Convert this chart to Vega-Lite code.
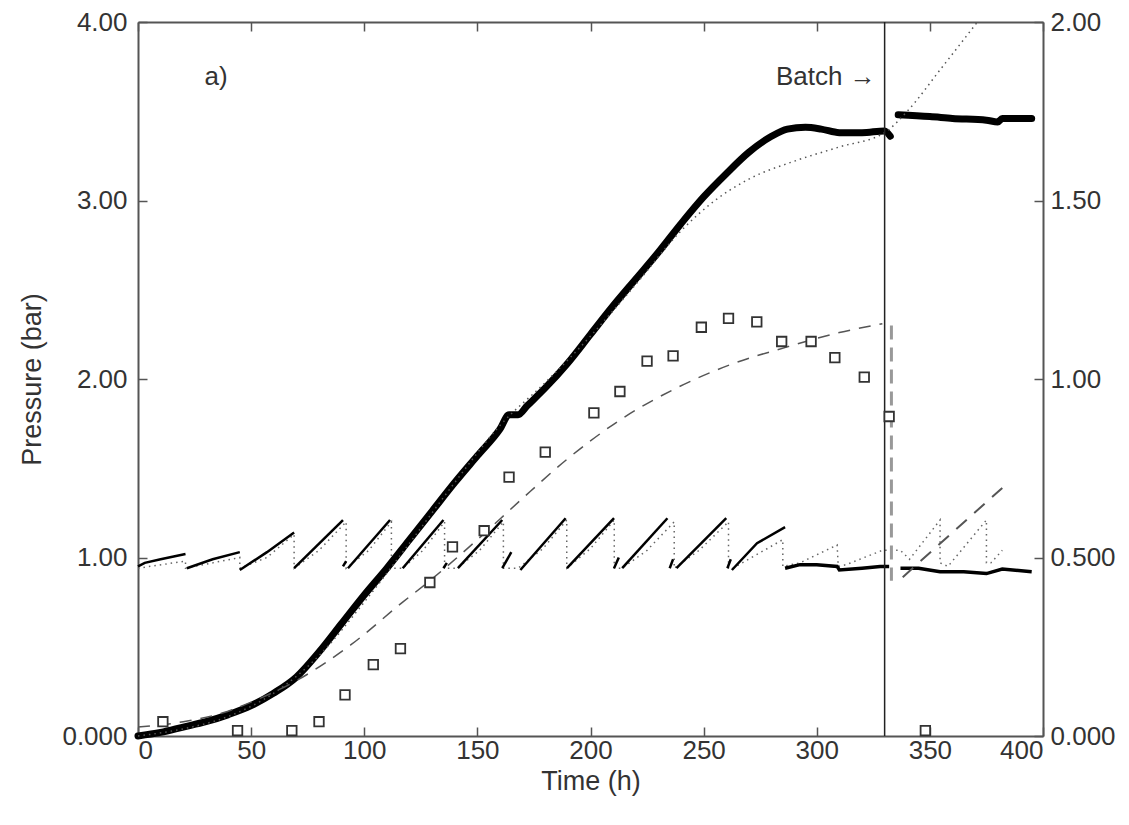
{
  "$schema": "https://vega.github.io/schema/vega-lite/v6.json",
  "width": 905,
  "height": 714,
  "autosize": {"type": "none"},
  "padding": {"left": 138, "top": 22, "right": 86, "bottom": 89},
  "background": "white",
  "config": {
    "view": {"stroke": null},
    "font": "Liberation Sans",
    "axis": {
      "grid": false,
      "domainColor": "#555",
      "domainWidth": 2,
      "tickColor": "#555",
      "tickWidth": 1.5,
      "tickSize": -9,
      "labelFont": "Liberation Sans",
      "labelFontSize": 26,
      "labelColor": "#333",
      "titleFont": "Liberation Sans",
      "titleFontSize": 27,
      "titleFontWeight": "normal",
      "titleColor": "#333"
    }
  },
  "datasets": {
    "thick": [
      {"t": 0, "p": 0, "s": 1}, {"t": 10, "p": 0.02, "s": 1}, {"t": 20, "p": 0.05, "s": 1}, {"t": 30, "p": 0.08, "s": 1},
      {"t": 40, "p": 0.12, "s": 1}, {"t": 50, "p": 0.17, "s": 1}, {"t": 60, "p": 0.24, "s": 1}, {"t": 70, "p": 0.33, "s": 1},
      {"t": 80, "p": 0.47, "s": 1}, {"t": 90, "p": 0.63, "s": 1}, {"t": 100, "p": 0.79, "s": 1}, {"t": 110, "p": 0.94, "s": 1},
      {"t": 120, "p": 1.10, "s": 1}, {"t": 130, "p": 1.26, "s": 1}, {"t": 140, "p": 1.42, "s": 1}, {"t": 150, "p": 1.57, "s": 1},
      {"t": 160, "p": 1.72, "s": 1}, {"t": 164, "p": 1.80, "s": 1}, {"t": 168, "p": 1.80, "s": 1}, {"t": 172, "p": 1.85, "s": 1},
      {"t": 180, "p": 1.95, "s": 1}, {"t": 190, "p": 2.09, "s": 1}, {"t": 200, "p": 2.25, "s": 1}, {"t": 210, "p": 2.41, "s": 1},
      {"t": 220, "p": 2.56, "s": 1}, {"t": 230, "p": 2.71, "s": 1}, {"t": 240, "p": 2.87, "s": 1}, {"t": 250, "p": 3.02, "s": 1},
      {"t": 260, "p": 3.15, "s": 1}, {"t": 270, "p": 3.27, "s": 1}, {"t": 280, "p": 3.36, "s": 1}, {"t": 287, "p": 3.40, "s": 1},
      {"t": 295, "p": 3.41, "s": 1}, {"t": 302, "p": 3.40, "s": 1}, {"t": 310, "p": 3.38, "s": 1}, {"t": 320, "p": 3.38, "s": 1}, {"t": 330, "p": 3.39, "s": 1},
      {"t": 332.5, "p": 3.36, "s": 1},
      {"t": 336, "p": 3.48, "s": 2}, {"t": 350, "p": 3.47, "s": 2}, {"t": 360, "p": 3.46, "s": 2}, {"t": 375, "p": 3.45, "s": 2},
      {"t": 380, "p": 3.44, "s": 2}, {"t": 382, "p": 3.46, "s": 2}, {"t": 395, "p": 3.46, "s": 2}
    ],
    "dotmodel": [
      {"t": 0, "p": 0}, {"t": 20, "p": 0.04}, {"t": 40, "p": 0.11}, {"t": 60, "p": 0.24}, {"t": 80, "p": 0.45},
      {"t": 100, "p": 0.75}, {"t": 120, "p": 1.08}, {"t": 140, "p": 1.42}, {"t": 160, "p": 1.74}, {"t": 180, "p": 1.98},
      {"t": 200, "p": 2.24}, {"t": 220, "p": 2.53}, {"t": 240, "p": 2.83}, {"t": 255, "p": 3.0}, {"t": 270, "p": 3.12},
      {"t": 290, "p": 3.22}, {"t": 310, "p": 3.30}, {"t": 330, "p": 3.38}, {"t": 340, "p": 3.50}, {"t": 355, "p": 3.74},
      {"t": 371, "p": 4.0}
    ],
    "saw": [
      {"t": 0, "p": 0.95, "s": 1}, {"t": 3, "p": 0.97, "s": 1}, {"t": 10, "p": 0.99, "s": 1}, {"t": 21, "p": 1.02, "s": 1},
      {"t": 21.6, "p": 0.94, "s": 2}, {"t": 33, "p": 0.99, "s": 2}, {"t": 45, "p": 1.03, "s": 2},
      {"t": 45, "p": 0.93, "s": 3}, {"t": 57, "p": 1.03, "s": 3}, {"t": 69, "p": 1.14, "s": 3},
      {"t": 69, "p": 0.94, "s": 4}, {"t": 90.6, "p": 1.21, "s": 4},
      {"t": 90.6, "p": 0.95, "s": 5}, {"t": 92, "p": 0.98, "s": 5},
      {"t": 92.8, "p": 0.94, "s": 6}, {"t": 111.4, "p": 1.21, "s": 6},
      {"t": 117, "p": 0.94, "s": 7}, {"t": 135, "p": 1.21, "s": 7},
      {"t": 135, "p": 0.94, "s": 8}, {"t": 136.5, "p": 0.97, "s": 8},
      {"t": 141.4, "p": 0.94, "s": 9}, {"t": 161, "p": 1.21, "s": 9},
      {"t": 161, "p": 0.94, "s": 10}, {"t": 165, "p": 1.03, "s": 10},
      {"t": 169, "p": 0.93, "s": 11}, {"t": 189, "p": 1.22, "s": 11},
      {"t": 189.6, "p": 0.94, "s": 12}, {"t": 210.4, "p": 1.22, "s": 12},
      {"t": 210.4, "p": 0.94, "s": 13}, {"t": 212.5, "p": 1.0, "s": 13},
      {"t": 214, "p": 0.94, "s": 14}, {"t": 234, "p": 1.22, "s": 14},
      {"t": 235, "p": 0.94, "s": 15}, {"t": 236.5, "p": 0.99, "s": 15},
      {"t": 238, "p": 0.94, "s": 16}, {"t": 260, "p": 1.22, "s": 16},
      {"t": 260.5, "p": 0.94, "s": 17}, {"t": 262, "p": 0.99, "s": 17},
      {"t": 262.5, "p": 0.93, "s": 18}, {"t": 273.6, "p": 1.08, "s": 18}, {"t": 286, "p": 1.17, "s": 18}
    ],
    "flat": [
      {"t": 286, "p": 0.94, "s": 1}, {"t": 292.6, "p": 0.96, "s": 1}, {"t": 300, "p": 0.96, "s": 1}, {"t": 309, "p": 0.95, "s": 1},
      {"t": 310, "p": 0.93, "s": 1}, {"t": 320, "p": 0.94, "s": 1}, {"t": 328, "p": 0.95, "s": 1}, {"t": 332, "p": 0.95, "s": 1},
      {"t": 337, "p": 0.94, "s": 2}, {"t": 345, "p": 0.94, "s": 2}, {"t": 354.5, "p": 0.92, "s": 2}, {"t": 365, "p": 0.92, "s": 2},
      {"t": 375, "p": 0.91, "s": 2}, {"t": 382, "p": 0.935, "s": 2}, {"t": 395, "p": 0.92, "s": 2}
    ],
    "sawdot": [
      {"i": 1, "t": 0, "p": 0.94}, {"i": 2, "t": 21, "p": 0.98}, {"i": 3, "t": 21, "p": 0.94}, {"i": 4, "t": 45, "p": 1.0},
      {"i": 5, "t": 45, "p": 0.94}, {"i": 6, "t": 57, "p": 1.0}, {"i": 7, "t": 69, "p": 1.13}, {"i": 8, "t": 69, "p": 0.94},
      {"i": 9, "t": 80, "p": 1.04}, {"i": 10, "t": 92, "p": 1.2}, {"i": 11, "t": 92, "p": 0.94}, {"i": 12, "t": 102, "p": 1.04},
      {"i": 13, "t": 112, "p": 1.2}, {"i": 14, "t": 112, "p": 0.94}, {"i": 15, "t": 117, "p": 0.94}, {"i": 16, "t": 126, "p": 1.04},
      {"i": 17, "t": 135.5, "p": 1.2}, {"i": 18, "t": 135.5, "p": 0.94}, {"i": 19, "t": 141, "p": 0.94}, {"i": 20, "t": 151, "p": 1.04},
      {"i": 21, "t": 161.5, "p": 1.2}, {"i": 22, "t": 161.5, "p": 0.94}, {"i": 23, "t": 168, "p": 0.94}, {"i": 24, "t": 179, "p": 1.05},
      {"i": 25, "t": 189.5, "p": 1.21}, {"i": 26, "t": 189.5, "p": 0.94}, {"i": 27, "t": 200, "p": 1.05}, {"i": 28, "t": 210.5, "p": 1.21},
      {"i": 29, "t": 210.5, "p": 0.94}, {"i": 30, "t": 214, "p": 0.94}, {"i": 31, "t": 225, "p": 1.04}, {"i": 32, "t": 237, "p": 1.2},
      {"i": 33, "t": 237, "p": 0.94}, {"i": 34, "t": 248, "p": 1.04}, {"i": 35, "t": 261, "p": 1.2}, {"i": 36, "t": 261, "p": 0.94},
      {"i": 37, "t": 263, "p": 0.94}, {"i": 38, "t": 274, "p": 1.02}, {"i": 39, "t": 285, "p": 1.10}, {"i": 40, "t": 285, "p": 0.95},
      {"i": 41, "t": 292.6, "p": 0.97}, {"i": 42, "t": 309, "p": 1.07}, {"i": 43, "t": 309.5, "p": 0.95}, {"i": 44, "t": 313, "p": 0.96},
      {"i": 45, "t": 329, "p": 1.04}, {"i": 46, "t": 337, "p": 1.04}, {"i": 47, "t": 341, "p": 0.99}, {"i": 48, "t": 354.5, "p": 1.21},
      {"i": 49, "t": 354.5, "p": 0.97}, {"i": 50, "t": 358, "p": 0.95}, {"i": 51, "t": 375, "p": 1.21}, {"i": 52, "t": 375, "p": 0.97},
      {"i": 53, "t": 377, "p": 0.97}, {"i": 54, "t": 382, "p": 1.04}
    ],
    "squares": [
      {"t": 11, "r": 0.04}, {"t": 44, "r": 0.015}, {"t": 68, "r": 0.015}, {"t": 80, "r": 0.04}, {"t": 91.5, "r": 0.115},
      {"t": 104, "r": 0.20}, {"t": 116, "r": 0.245}, {"t": 129, "r": 0.43}, {"t": 139, "r": 0.53}, {"t": 153, "r": 0.575},
      {"t": 164, "r": 0.725}, {"t": 180, "r": 0.795}, {"t": 201.5, "r": 0.905}, {"t": 213, "r": 0.965}, {"t": 225, "r": 1.05},
      {"t": 236.5, "r": 1.065}, {"t": 249, "r": 1.145}, {"t": 261, "r": 1.17}, {"t": 273.5, "r": 1.16}, {"t": 284.5, "r": 1.105},
      {"t": 297.5, "r": 1.105}, {"t": 308, "r": 1.06}, {"t": 321, "r": 1.005}, {"t": 332, "r": 0.895}, {"t": 348, "r": 0.015}
    ],
    "dashmodel": [
      {"t": 0, "r": 0.025}, {"t": 20, "r": 0.04}, {"t": 37.6, "r": 0.065}, {"t": 50, "r": 0.095}, {"t": 70, "r": 0.155},
      {"t": 94, "r": 0.255}, {"t": 117, "r": 0.375}, {"t": 129, "r": 0.435}, {"t": 150, "r": 0.55}, {"t": 169, "r": 0.66},
      {"t": 189.6, "r": 0.775}, {"t": 213, "r": 0.885}, {"t": 236.5, "r": 0.97}, {"t": 261.7, "r": 1.04}, {"t": 287, "r": 1.09},
      {"t": 310, "r": 1.13}, {"t": 329, "r": 1.155}
    ],
    "dashdrop": [
      {"i": 1, "t": 333, "r": 1.15}, {"i": 2, "t": 333, "r": 0.435}
    ],
    "dashdiag": [
      {"t": 338, "r": 0.445}, {"t": 382, "r": 0.695}
    ]
  },
  "resolve": {"scale": {"y": "independent"}, "axis": {"x": "independent", "y": "independent"}},
  "layer": [
    {
      "layer": [
        {
          "data": {"name": "sawdot"},
          "mark": {"type": "line", "color": "#666", "strokeWidth": 1.5, "strokeDash": [1.5, 4]},
          "encoding": {
            "x": {"field": "t", "type": "quantitative", "scale": {"domain": [0, 400], "nice": false},
              "axis": {"orient": "bottom", "values": [0, 50, 100, 150, 200, 250, 300, 350, 400], "labelPadding": 10, "title": "Time (h)", "titlePadding": 5}},
            "y": {"field": "p", "type": "quantitative", "scale": {"domain": [0, 4], "nice": false},
              "axis": {"orient": "left", "values": [0, 1, 2, 3, 4], "labelPadding": 20, "title": "Pressure (bar)", "titlePadding": 15,
                "labelExpr": "datum.value == 0 ? '0.000' : format(datum.value, '.2f')"}},
            "order": {"field": "i", "type": "quantitative"}
          }
        },
        {
          "data": {"name": "saw"},
          "mark": {"type": "line", "color": "black", "strokeWidth": 2.5},
          "encoding": {
            "x": {"field": "t", "type": "quantitative"},
            "y": {"field": "p", "type": "quantitative"},
            "detail": {"field": "s", "type": "nominal"}
          }
        },
        {
          "data": {"name": "flat"},
          "mark": {"type": "line", "color": "black", "strokeWidth": 3.5},
          "encoding": {
            "x": {"field": "t", "type": "quantitative"},
            "y": {"field": "p", "type": "quantitative"},
            "detail": {"field": "s", "type": "nominal"}
          }
        },
        {
          "data": {"name": "thick"},
          "mark": {"type": "line", "color": "black", "strokeWidth": 7, "strokeCap": "round", "strokeJoin": "round", "interpolate": "monotone"},
          "encoding": {
            "x": {"field": "t", "type": "quantitative"},
            "y": {"field": "p", "type": "quantitative"},
            "detail": {"field": "s", "type": "nominal"}
          }
        },
        {
          "data": {"name": "dotmodel"},
          "mark": {"type": "line", "color": "#555", "strokeWidth": 1.5, "strokeDash": [1.5, 4], "interpolate": "monotone"},
          "encoding": {
            "x": {"field": "t", "type": "quantitative"},
            "y": {"field": "p", "type": "quantitative"}
          }
        },
        {
          "data": {"values": [{"t": 330}]},
          "mark": {"type": "rule", "color": "#222", "strokeWidth": 1.5},
          "encoding": {"x": {"field": "t", "type": "quantitative"}}
        },
        {
          "data": {"values": [{"t": 34.5, "p": 3.69, "label": "a)"}, {"t": 304, "p": 3.69, "label": "Batch →"}]},
          "mark": {"type": "text", "font": "Liberation Sans", "fontSize": 26, "color": "#333", "align": "center", "baseline": "middle"},
          "encoding": {
            "x": {"field": "t", "type": "quantitative"},
            "y": {"field": "p", "type": "quantitative"},
            "text": {"field": "label"}
          }
        }
      ]
    },
    {
      "layer": [
        {
          "data": {"name": "dashmodel"},
          "mark": {"type": "line", "color": "#555", "strokeWidth": 1.5, "strokeDash": [12, 9], "interpolate": "monotone"},
          "encoding": {
            "x": {"field": "t", "type": "quantitative", "scale": {"domain": [0, 400], "nice": false},
              "axis": {"orient": "top", "values": [0, 50, 100, 150, 200, 250, 300, 350, 400], "labels": false, "title": null}},
            "y": {"field": "r", "type": "quantitative", "scale": {"domain": [0, 2], "nice": false},
              "axis": {"orient": "right", "values": [0, 0.5, 1, 1.5, 2], "labelPadding": 16, "title": null,
                "labelExpr": "datum.value == 0 ? '0.000' : datum.value == 0.5 ? '0.500' : format(datum.value, '.2f')"}}
          }
        },
        {
          "data": {"name": "dashdrop"},
          "mark": {"type": "line", "color": "#999", "strokeWidth": 3, "strokeDash": [14, 8]},
          "encoding": {
            "x": {"field": "t", "type": "quantitative"},
            "y": {"field": "r", "type": "quantitative"},
            "order": {"field": "i", "type": "quantitative"}
          }
        },
        {
          "data": {"name": "dashdiag"},
          "mark": {"type": "line", "color": "#555", "strokeWidth": 2, "strokeDash": [14, 10]},
          "encoding": {
            "x": {"field": "t", "type": "quantitative"},
            "y": {"field": "r", "type": "quantitative"}
          }
        },
        {
          "data": {"name": "squares"},
          "mark": {"type": "point", "shape": "square", "filled": false, "size": 90, "stroke": "#333", "strokeWidth": 1.8, "fill": "white", "fillOpacity": 1, "opacity": 1},
          "encoding": {
            "x": {"field": "t", "type": "quantitative"},
            "y": {"field": "r", "type": "quantitative"}
          }
        }
      ]
    }
  ]
}
